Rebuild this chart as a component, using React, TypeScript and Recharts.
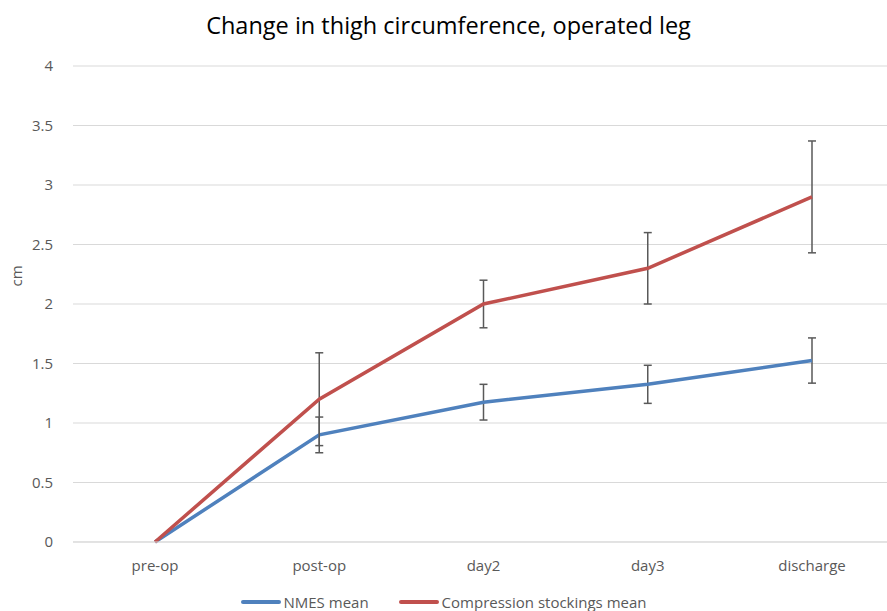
import { LineChart, Line, XAxis, YAxis, CartesianGrid, ErrorBar } from "recharts";

const categories = ["pre-op", "post-op", "day2", "day3", "discharge"];
const nmesMean = [0, 0.9, 1.175, 1.325, 1.525];
const nmesErr: (number | null)[] = [null, 0.15, 0.15, 0.16, 0.19];
const stockingsMean = [0, 1.2, 2.0, 2.3, 2.9];
const stockingsErr: (number | null)[] = [null, 0.39, 0.2, 0.3, 0.47];
const yTicks = [0, 0.5, 1, 1.5, 2, 2.5, 3, 3.5, 4];

const data = categories.map((c, i) => ({
  name: c,
  nmes: nmesMean[i],
  nmesErr: nmesErr[i],
  stock: stockingsMean[i],
  stockErr: stockingsErr[i],
}));

const FONT = "'Open Sans', 'Liberation Sans', sans-serif";
const BLUE = "#4f81bd";
const RED = "#c0504d";
const GREY = "#595959";

function LegendBox() {
  const items = [
    { label: "NMES mean", color: BLUE },
    { label: "Compression stockings mean", color: RED },
  ];
  return (
    <div style={{ position: "absolute", top: 592, left: 0, width: 887, display: "flex", justifyContent: "center", gap: 30, fontFamily: FONT, fontSize: 15, color: GREY, lineHeight: "20px" }}>
      {items.map(it => (
        <div key={it.label} style={{ display: "flex", alignItems: "center" }}>
          <span style={{ display: "inline-block", width: 40, height: 4, borderRadius: 2, background: it.color, marginRight: 3 }} />
          {it.label}
        </div>
      ))}
    </div>
  );
}

export default function App() {
  return (
    <div style={{ position: "absolute", left: 0, top: 0, width: 887, height: 611, overflow: "hidden", background: "#fff" }}>
      <div style={{ position: "absolute", top: 9, width: 897, textAlign: "center", fontFamily: FONT, fontSize: 23.5, color: "#000" }}>
        Change in thigh circumference, operated leg
      </div>
      <div style={{ position: "absolute", left: 5, top: 266, transform: "rotate(-90deg)", fontFamily: FONT, fontSize: 15, color: GREY }}>
        cm
      </div>
      <LineChart width={894} height={611} data={data} margin={{ top: 66, right: 0, bottom: 39, left: 0 }}>
        <CartesianGrid horizontal vertical={false} stroke="#d9d9d9" strokeWidth={1} />
        <XAxis
          dataKey="name"
          height={30}
          padding={{ left: 82, right: 82 }}
          axisLine={{ stroke: "#d9d9d9" }}
          tickLine={false}
          tick={{ fontSize: 15, fill: GREY, fontFamily: FONT }}
          tickMargin={12}
        />
        <YAxis
          domain={[0, 4]}
          ticks={yTicks}
          width={73}
          axisLine={false}
          tickLine={false}
          tick={{ fontSize: 15, fill: GREY, fontFamily: FONT }}
          tickMargin={14}
        />
        <Line type="linear" dataKey="nmes" stroke={BLUE} strokeWidth={3.5} dot={false} isAnimationActive={false}>
          <ErrorBar dataKey="nmesErr" width={4} stroke={GREY} strokeWidth={1.5} direction="y" />
        </Line>
        <Line type="linear" dataKey="stock" stroke={RED} strokeWidth={3.5} dot={false} isAnimationActive={false}>
          <ErrorBar dataKey="stockErr" width={4} stroke={GREY} strokeWidth={1.5} direction="y" />
        </Line>
      </LineChart>
      <LegendBox />
    </div>
  );
}
